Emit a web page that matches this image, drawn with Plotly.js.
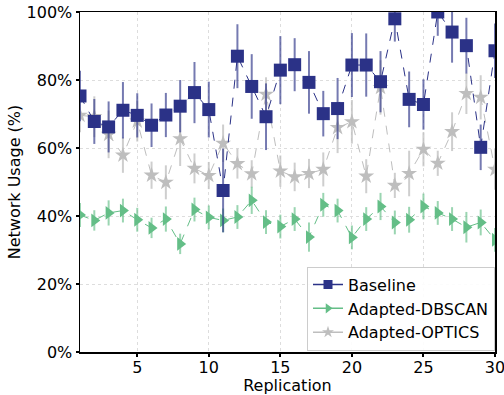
<!DOCTYPE html>
<html>
<head>
<meta charset="utf-8">
<script src="https://cdn.plot.ly/plotly-3.0.1.min.js"></script>
<style>html,body{margin:0;padding:0;background:#fff;}#chart{width:504px;height:395px;}</style>
</head>
<body>
<div id="chart"></div>
<script>
const replication = [1,2,3,4,5,6,7,8,9,10,11,12,13,14,15,16,17,18,19,20,21,22,23,24,25,26,27,28,29,30];
const baseline = [75.3,67.8,66.2,71.1,69.6,66.7,69.7,72.3,76.3,71.3,47.5,87.0,78.1,69.2,82.9,84.5,79.3,70.1,71.6,84.4,84.4,79.5,98.0,74.3,72.8,100.0,94.1,90.1,60.2,88.6];
const baselineErr = [7.4,6.6,7.5,8.3,6.5,6.4,6.5,7.7,9.0,8.2,12.3,9.4,9.5,9.8,10.0,7.8,9.2,6.7,9.0,9.4,9.3,9.0,6.7,8.2,7.4,7.0,9.0,8.2,6.7,8.0];
const dbscan = [40.3,38.7,40.9,41.6,38.9,36.5,39.1,31.8,41.9,39.6,38.7,39.7,44.6,38.2,36.9,39.1,33.8,43.3,41.6,33.7,39.1,42.8,38.1,38.9,42.8,40.9,39.1,36.7,38.1,33.0];
const dbscanErr = [3.5,3.0,3.7,3.5,3.5,3.0,3.7,3.0,3.5,3.5,3.5,3.5,4.0,3.5,3.5,3.5,4.3,3.5,3.5,3.5,3.5,4.0,3.5,3.8,3.8,3.5,3.5,4.5,3.8,3.5];
const optics = [69.6,69.2,64.0,57.9,67.9,52.0,49.9,62.7,54.0,51.9,61.4,55.4,52.4,75.8,53.2,51.5,52.5,53.7,66.0,67.7,51.7,77.8,49.0,52.5,59.6,55.5,64.8,76.0,74.9,53.7];
const opticsErr = [5.0,6.0,7.0,5.2,6.0,4.0,5.0,8.0,4.4,4.0,5.5,4.4,4.0,5.0,4.6,4.2,4.3,5.0,7.5,6.4,5.0,8.0,3.7,6.7,5.0,3.7,5.7,6.0,6.5,6.0];
const yTickVals = [0,20,40,60,80,100];
const yTickText = ['0%','20%','40%','60%','80%','100%'];
const xTickVals = [5,10,15,20,25,30];

const navy = 'rgb(43,50,135)';
const green = 'rgb(100,190,135)';
const gray = 'rgb(190,190,190)';

function series(name, y, err, color, errColor, symbol, size) {
  return {
    x: replication, y: y, name: name, type: 'scatter', mode: 'lines+markers',
    line: {color: color, width: 1, dash: 'dash'},
    marker: {symbol: symbol, size: size, color: color},
    error_y: {type: 'data', array: err, visible: true, color: errColor, thickness: 2, width: 0},
    showlegend: false,
    cliponaxis: true
  };
}
function legendItem(name, color, symbol, size) {
  return {
    x: [null], y: [null], name: name, type: 'scatter', mode: 'lines+markers',
    line: {color: color, width: 1.5},
    marker: {symbol: symbol, size: size, color: color},
    showlegend: true
  };
}

const data = [
  series('Adapted-OPTICS', optics, opticsErr, gray, 'rgba(190,190,190,0.75)', 'star', 12),
  series('Adapted-DBSCAN', dbscan, dbscanErr, green, 'rgba(100,190,135,0.65)', 'triangle-right', 12),
  series('Baseline', baseline, baselineErr, navy, 'rgba(43,50,135,0.65)', 'square', 13),
  legendItem('Baseline', navy, 'square', 9),
  legendItem('Adapted-DBSCAN', green, 'triangle-right', 9),
  legendItem('Adapted-OPTICS', gray, 'star', 9)
];

const font = {family: 'DejaVu Sans', size: 16, color: '#000'};
const layout = {
  width: 504, height: 395,
  margin: {l: 80, r: 9, t: 12, b: 43},
  paper_bgcolor: '#fff', plot_bgcolor: '#fff',
  font: font,
  showlegend: true,
  legend: {
    x: 1, y: 0.004, xanchor: 'right', yanchor: 'bottom',
    bgcolor: 'rgba(255,255,255,0.9)', bordercolor: '#ccc', borderwidth: 1,
    font: {family: 'DejaVu Sans', size: 16, color: '#000'},
    itemwidth: 30, tracegroupgap: 0
  },
  xaxis: {
    range: [1, 30], tickmode: 'array', tickvals: xTickVals,
    showline: true, linecolor: '#000', linewidth: 1.5, mirror: true,
    ticks: 'outside', ticklen: 3, tickwidth: 2, tickcolor: '#000',
    showgrid: true, gridcolor: '#ddd', griddash: 'dot', gridwidth: 1,
    zeroline: false, ticklabeloverflow: 'allow', ticklabelstandoff: -3,
    title: {text: 'Replication', font: font, standoff: 3},
    tickfont: font
  },
  yaxis: {
    range: [0, 100], tickmode: 'array', tickvals: yTickVals, ticktext: yTickText,
    showline: true, linecolor: '#000', linewidth: 1.5, mirror: true,
    ticks: 'outside', ticklen: 3, tickwidth: 2, tickcolor: '#000',
    showgrid: true, gridcolor: '#ddd', griddash: 'dot', gridwidth: 1,
    zeroline: false, ticklabeloverflow: 'allow',
    title: {text: 'Network Usage (%)', font: font, standoff: 2},
    tickfont: font
  }
};

Plotly.newPlot('chart', data, layout, {displayModeBar: false, staticPlot: true});
</script>
</body>
</html>
